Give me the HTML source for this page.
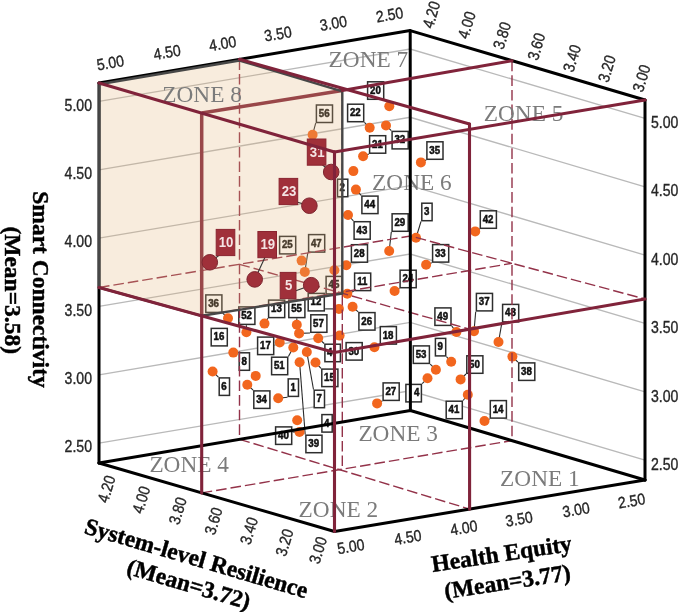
<!DOCTYPE html>
<html><head><meta charset="utf-8"><title>Zones</title>
<style>html,body{margin:0;padding:0;background:#fff;} svg{display:block;filter:blur(0.35px);}</style></head>
<body><svg width="685" height="612" viewBox="0 0 685 612">
<rect width="685" height="612" fill="#fff"/>
<g stroke="#b9b9b9" stroke-width="1.35" fill="none">
<polyline points="99.0,101.4 410.2,49.0 645.0,118.4" fill="none" />
<polyline points="99.0,169.8 410.2,117.3 645.0,186.8" fill="none" />
<polyline points="99.0,238.1 410.2,185.7 645.0,255.1" fill="none" />
<polyline points="99.0,306.4 410.2,254.0 645.0,323.4" fill="none" />
<polyline points="99.0,374.8 410.2,322.4 645.0,391.8" fill="none" />
<polyline points="99.0,443.1 410.2,390.8 645.0,460.1" fill="none" />
</g>
<g stroke="#2b2b2b" stroke-width="1.1">
<line x1="364.4" y1="122.4" x2="369.7" y2="127.7" />
<line x1="391.3" y1="130.7" x2="386.0" y2="125.5" />
<line x1="368.9" y1="153.9" x2="363.1" y2="156.2" />
<line x1="315.7" y1="123.2" x2="312.6" y2="134.7" />
<line x1="426.2" y1="160.1" x2="420.9" y2="162.4" />
<line x1="421.0" y1="221.5" x2="416.0" y2="237.8" />
<line x1="479.6" y1="229.0" x2="475.2" y2="231.4" />
<line x1="361.2" y1="195.3" x2="355.9" y2="189.6" />
<line x1="353.4" y1="220.9" x2="348.0" y2="215.0" />
<line x1="391.3" y1="232.0" x2="389.2" y2="251.0" />
<line x1="350.7" y1="262.9" x2="346.3" y2="265.3" />
<line x1="431.8" y1="262.8" x2="426.1" y2="264.7" />
<line x1="475.7" y1="311.7" x2="474.0" y2="331.2" />
<line x1="501.9" y1="322.7" x2="498.5" y2="342.0" />
<line x1="517.9" y1="362.2" x2="512.4" y2="356.6" />
<line x1="307.8" y1="252.8" x2="304.8" y2="271.9" />
<line x1="334.4" y1="275.7" x2="334.4" y2="270.2" />
<line x1="353.8" y1="291.3" x2="347.3" y2="293.7" />
<line x1="399.4" y1="288.5" x2="394.6" y2="291.0" />
<line x1="325.1" y1="308.9" x2="338.9" y2="308.9" />
<line x1="310.0" y1="333.0" x2="299.1" y2="333.4" />
<line x1="358.2" y1="311.9" x2="352.6" y2="306.8" />
<line x1="379.6" y1="344.8" x2="374.4" y2="347.2" />
<line x1="324.2" y1="343.5" x2="318.2" y2="338.3" />
<line x1="222.7" y1="313.2" x2="228.0" y2="318.3" />
<line x1="246.4" y1="325.2" x2="246.4" y2="332.3" />
<line x1="267.9" y1="318.3" x2="264.5" y2="323.6" />
<line x1="296.8" y1="318.3" x2="296.8" y2="324.7" />
<line x1="288.4" y1="356.5" x2="293.3" y2="347.5" />
<line x1="238.5" y1="352.6" x2="233.3" y2="352.6" />
<line x1="218.4" y1="377.2" x2="212.6" y2="371.5" />
<line x1="253.1" y1="390.1" x2="247.3" y2="384.7" />
<line x1="287.5" y1="397.2" x2="278.2" y2="398.2" />
<line x1="321.0" y1="368.4" x2="315.5" y2="362.5" />
<line x1="313.5" y1="389.5" x2="306.8" y2="352.0" />
<line x1="305.2" y1="434.5" x2="299.6" y2="362.2" />
<line x1="292.5" y1="432.0" x2="299.5" y2="432.0" />
<line x1="382.3" y1="401.1" x2="377.1" y2="403.4" />
<line x1="422.2" y1="383.7" x2="427.5" y2="378.3" />
<line x1="451.8" y1="326.2" x2="456.4" y2="332.0" />
<line x1="446.4" y1="356.7" x2="451.2" y2="361.8" />
<line x1="430.2" y1="364.2" x2="435.9" y2="369.7" />
<line x1="466.0" y1="374.0" x2="460.6" y2="379.4" />
<line x1="463.1" y1="400.5" x2="467.8" y2="394.7" />
<line x1="489.6" y1="418.9" x2="484.5" y2="421.0" />
</g>
<g fill="#f2661e">
<circle cx="389.3" cy="106.3" r="5"/>
<circle cx="369.7" cy="127.7" r="5"/>
<circle cx="386.0" cy="125.5" r="5"/>
<circle cx="363.1" cy="156.2" r="5"/>
<circle cx="353.4" cy="171.1" r="5"/>
<circle cx="312.6" cy="134.7" r="5"/>
<circle cx="420.9" cy="162.4" r="5"/>
<circle cx="355.9" cy="189.6" r="5"/>
<circle cx="348.0" cy="215.0" r="5"/>
<circle cx="389.2" cy="251.0" r="5"/>
<circle cx="416.0" cy="237.8" r="5"/>
<circle cx="346.3" cy="265.3" r="5"/>
<circle cx="334.4" cy="270.2" r="5"/>
<circle cx="426.1" cy="264.7" r="5"/>
<circle cx="475.2" cy="231.4" r="5"/>
<circle cx="301.6" cy="260.6" r="5"/>
<circle cx="304.8" cy="271.9" r="5"/>
<circle cx="347.3" cy="293.7" r="5"/>
<circle cx="394.6" cy="291.0" r="5"/>
<circle cx="352.6" cy="306.8" r="5"/>
<circle cx="338.9" cy="308.9" r="5"/>
<circle cx="339.6" cy="335.6" r="5"/>
<circle cx="374.4" cy="347.2" r="5"/>
<circle cx="228.0" cy="318.3" r="5"/>
<circle cx="264.5" cy="323.6" r="5"/>
<circle cx="296.8" cy="324.7" r="5"/>
<circle cx="299.1" cy="333.4" r="5"/>
<circle cx="318.2" cy="338.3" r="5"/>
<circle cx="279.7" cy="342.4" r="5"/>
<circle cx="293.3" cy="347.5" r="5"/>
<circle cx="306.8" cy="352.0" r="5"/>
<circle cx="299.6" cy="362.2" r="5"/>
<circle cx="315.5" cy="362.5" r="5"/>
<circle cx="246.4" cy="332.3" r="5"/>
<circle cx="233.3" cy="352.6" r="5"/>
<circle cx="212.6" cy="371.5" r="5"/>
<circle cx="255.7" cy="375.9" r="5"/>
<circle cx="247.3" cy="384.7" r="5"/>
<circle cx="278.2" cy="398.2" r="5"/>
<circle cx="297.2" cy="420.2" r="5"/>
<circle cx="299.5" cy="432.0" r="5"/>
<circle cx="377.1" cy="403.4" r="5"/>
<circle cx="474.0" cy="331.2" r="5"/>
<circle cx="498.5" cy="342.0" r="5"/>
<circle cx="512.4" cy="356.6" r="5"/>
<circle cx="456.4" cy="332.0" r="5"/>
<circle cx="451.2" cy="361.8" r="5"/>
<circle cx="435.9" cy="369.7" r="5"/>
<circle cx="427.5" cy="378.3" r="5"/>
<circle cx="460.6" cy="379.4" r="5"/>
<circle cx="467.8" cy="394.7" r="5"/>
<circle cx="484.5" cy="421.0" r="5"/>
</g>
<g fill="#fff" stroke="#2e2e2e" stroke-width="1.5">
<rect x="367.6" y="81.8" width="16.1" height="17.5"/>
<rect x="347.6" y="104.2" width="16.1" height="17.5"/>
<rect x="392.1" y="131.4" width="16.1" height="17.5"/>
<rect x="369.6" y="135.7" width="16.1" height="17.5"/>
<rect x="316.4" y="105.0" width="16.1" height="17.5"/>
<rect x="426.9" y="141.8" width="16.1" height="17.5"/>
<rect x="421.8" y="203.2" width="10.3" height="17.5"/>
<rect x="480.3" y="210.8" width="16.1" height="17.5"/>
<rect x="361.9" y="196.1" width="16.1" height="17.5"/>
<rect x="354.1" y="221.7" width="16.1" height="17.5"/>
<rect x="392.1" y="213.8" width="16.1" height="17.5"/>
<rect x="351.4" y="244.7" width="16.1" height="17.5"/>
<rect x="432.6" y="244.6" width="16.1" height="17.5"/>
<rect x="476.4" y="293.4" width="16.1" height="17.5"/>
<rect x="502.6" y="304.4" width="16.1" height="17.5"/>
<rect x="518.7" y="362.9" width="16.1" height="17.5"/>
<rect x="279.6" y="236.4" width="16.1" height="17.5"/>
<rect x="308.6" y="234.6" width="16.1" height="17.5"/>
<rect x="337.5" y="179.2" width="10.3" height="17.5"/>
<rect x="326.1" y="276.4" width="16.1" height="17.5"/>
<rect x="354.6" y="273.1" width="16.1" height="17.5"/>
<rect x="400.1" y="270.2" width="16.1" height="17.5"/>
<rect x="308.2" y="293.4" width="16.1" height="17.5"/>
<rect x="310.8" y="314.8" width="16.1" height="17.5"/>
<rect x="358.9" y="312.6" width="16.1" height="17.5"/>
<rect x="380.3" y="326.6" width="16.1" height="17.5"/>
<rect x="324.9" y="344.2" width="15.5" height="17.5"/>
<rect x="346.1" y="342.6" width="16.1" height="17.5"/>
<rect x="205.8" y="294.9" width="16.1" height="17.5"/>
<rect x="238.8" y="306.9" width="16.1" height="17.5"/>
<rect x="268.6" y="300.1" width="16.1" height="17.5"/>
<rect x="288.8" y="300.1" width="16.1" height="17.5"/>
<rect x="211.2" y="328.4" width="16.1" height="17.5"/>
<rect x="257.6" y="337.1" width="16.1" height="17.5"/>
<rect x="271.6" y="357.2" width="16.1" height="17.5"/>
<rect x="239.2" y="352.8" width="10.3" height="17.5"/>
<rect x="219.2" y="377.9" width="10.3" height="17.5"/>
<rect x="253.8" y="390.9" width="16.1" height="17.5"/>
<rect x="288.2" y="378.9" width="10.3" height="17.5"/>
<rect x="321.8" y="369.1" width="16.1" height="17.5"/>
<rect x="314.2" y="390.2" width="10.3" height="17.5"/>
<rect x="321.9" y="414.6" width="10.3" height="17.5"/>
<rect x="305.9" y="435.2" width="16.1" height="17.5"/>
<rect x="275.6" y="426.9" width="16.1" height="17.5"/>
<rect x="383.1" y="382.9" width="16.1" height="17.5"/>
<rect x="405.9" y="384.4" width="15.5" height="17.5"/>
<rect x="434.9" y="307.9" width="16.1" height="17.5"/>
<rect x="435.4" y="338.4" width="10.3" height="17.5"/>
<rect x="413.3" y="345.9" width="16.1" height="17.5"/>
<rect x="466.8" y="355.8" width="16.1" height="17.5"/>
<rect x="446.2" y="401.2" width="16.1" height="17.5"/>
<rect x="490.3" y="400.6" width="16.1" height="17.5"/>
</g>
<g font-family="Liberation Sans, Arial, sans-serif" font-weight="bold" font-size="10.2" fill="#111" stroke="#111" stroke-width="0.5" text-anchor="middle">
<text x="0" y="0" transform="translate(375.4,93.7) scale(0.95,1)">20</text>
<text x="0" y="0" transform="translate(355.3,116.1) scale(0.95,1)">22</text>
<text x="0" y="0" transform="translate(399.8,143.4) scale(0.95,1)">32</text>
<text x="0" y="0" transform="translate(377.4,147.6) scale(0.95,1)">21</text>
<text x="0" y="0" transform="translate(324.2,116.9) scale(0.95,1)">56</text>
<text x="0" y="0" transform="translate(434.7,153.8) scale(0.95,1)">35</text>
<text x="0" y="0" transform="translate(426.6,215.2) scale(0.95,1)">3</text>
<text x="0" y="0" transform="translate(488.1,222.7) scale(0.95,1)">42</text>
<text x="0" y="0" transform="translate(369.7,208.0) scale(0.95,1)">44</text>
<text x="0" y="0" transform="translate(361.9,233.6) scale(0.95,1)">43</text>
<text x="0" y="0" transform="translate(399.8,225.7) scale(0.95,1)">29</text>
<text x="0" y="0" transform="translate(359.2,256.6) scale(0.95,1)">28</text>
<text x="0" y="0" transform="translate(440.3,256.5) scale(0.95,1)">33</text>
<text x="0" y="0" transform="translate(484.2,305.4) scale(0.95,1)">37</text>
<text x="0" y="0" transform="translate(510.4,316.4) scale(0.95,1)">48</text>
<text x="0" y="0" transform="translate(526.4,374.9) scale(0.95,1)">38</text>
<text x="0" y="0" transform="translate(287.3,248.4) scale(0.95,1)">25</text>
<text x="0" y="0" transform="translate(316.3,246.5) scale(0.95,1)">47</text>
<text x="0" y="0" transform="translate(342.3,191.2) scale(0.95,1)">2</text>
<text x="0" y="0" transform="translate(333.9,288.4) scale(0.95,1)">45</text>
<text x="0" y="0" transform="translate(362.3,285.0) scale(0.95,1)">11</text>
<text x="0" y="0" transform="translate(407.9,282.2) scale(0.95,1)">24</text>
<text x="0" y="0" transform="translate(316.0,305.3) scale(0.95,1)">12</text>
<text x="0" y="0" transform="translate(318.5,326.7) scale(0.95,1)">57</text>
<text x="0" y="0" transform="translate(366.7,324.6) scale(0.95,1)">26</text>
<text x="0" y="0" transform="translate(388.1,338.5) scale(0.95,1)">18</text>
<text x="0" y="0" transform="translate(329.6,356.2) scale(0.95,1)">4</text>
<text x="0" y="0" transform="translate(353.8,354.5) scale(0.95,1)">30</text>
<text x="0" y="0" transform="translate(213.6,306.9) scale(0.95,1)">36</text>
<text x="0" y="0" transform="translate(246.6,318.9) scale(0.95,1)">52</text>
<text x="0" y="0" transform="translate(276.4,312.0) scale(0.95,1)">13</text>
<text x="0" y="0" transform="translate(296.6,312.0) scale(0.95,1)">55</text>
<text x="0" y="0" transform="translate(219.0,340.4) scale(0.95,1)">16</text>
<text x="0" y="0" transform="translate(265.4,349.0) scale(0.95,1)">17</text>
<text x="0" y="0" transform="translate(279.3,369.2) scale(0.95,1)">51</text>
<text x="0" y="0" transform="translate(244.1,364.7) scale(0.95,1)">8</text>
<text x="0" y="0" transform="translate(224.0,389.9) scale(0.95,1)">6</text>
<text x="0" y="0" transform="translate(261.6,402.8) scale(0.95,1)">34</text>
<text x="0" y="0" transform="translate(293.1,390.9) scale(0.95,1)">1</text>
<text x="0" y="0" transform="translate(329.5,381.1) scale(0.95,1)">15</text>
<text x="0" y="0" transform="translate(319.1,402.2) scale(0.95,1)">7</text>
<text x="0" y="0" transform="translate(326.7,426.5) scale(0.95,1)">4</text>
<text x="0" y="0" transform="translate(313.7,447.2) scale(0.95,1)">39</text>
<text x="0" y="0" transform="translate(283.4,438.8) scale(0.95,1)">40</text>
<text x="0" y="0" transform="translate(390.8,394.8) scale(0.95,1)">27</text>
<text x="0" y="0" transform="translate(416.6,396.4) scale(0.95,1)">4</text>
<text x="0" y="0" transform="translate(442.7,319.9) scale(0.95,1)">49</text>
<text x="0" y="0" transform="translate(440.2,350.4) scale(0.95,1)">9</text>
<text x="0" y="0" transform="translate(421.1,357.9) scale(0.95,1)">53</text>
<text x="0" y="0" transform="translate(474.5,367.7) scale(0.95,1)">50</text>
<text x="0" y="0" transform="translate(454.0,413.2) scale(0.95,1)">41</text>
<text x="0" y="0" transform="translate(498.1,412.6) scale(0.95,1)">14</text>
</g>
<g stroke="#933249" stroke-width="1.4" stroke-dasharray="10.6 4" fill="none">
<line x1="239.5" y1="59.3" x2="239.5" y2="439.3" />
<line x1="512.0" y1="60.7" x2="512.0" y2="440.6" />
<polyline points="99.0,287.5 410.4,236.0 645.0,299.0" fill="none" />
<line x1="239.5" y1="439.3" x2="469.6" y2="509.1" />
<line x1="201.7" y1="492.9" x2="512.0" y2="440.6" />
<line x1="342.3" y1="90.5" x2="342.3" y2="470.5" />
<line x1="239.5" y1="264.3" x2="469.6" y2="329.2" />
<line x1="201.7" y1="315.8" x2="512.0" y2="263.3" />
</g>
<g stroke="#80233a" stroke-width="3.5" fill="none">
<line x1="201.7" y1="113.1" x2="201.7" y2="315.8" />
<line x1="201.7" y1="113.1" x2="342.3" y2="90.5" />
</g>
<polygon points="99.0,83.0 239.5,59.3 342.3,90.5 342.3,293.5 201.7,315.8 99.0,287.5" fill="rgb(227,179,119)" fill-opacity="0.25" stroke="none"/>
<g font-family="Liberation Serif, Times New Roman, serif" font-size="23" fill="#7b7b7b">
<text x="162.3" y="101.7" textLength="79.6" lengthAdjust="spacingAndGlyphs">ZONE 8</text>
<text x="328.6" y="67.4" textLength="79.6" lengthAdjust="spacingAndGlyphs">ZONE 7</text>
<text x="483.8" y="121" textLength="79.6" lengthAdjust="spacingAndGlyphs">ZONE 5</text>
<text x="372.1" y="190" textLength="79.6" lengthAdjust="spacingAndGlyphs">ZONE 6</text>
<text x="358.4" y="440.7" textLength="79.6" lengthAdjust="spacingAndGlyphs">ZONE 3</text>
<text x="149.4" y="471.7" textLength="79.6" lengthAdjust="spacingAndGlyphs">ZONE 4</text>
<text x="298.6" y="516.8" textLength="79.6" lengthAdjust="spacingAndGlyphs">ZONE 2</text>
<text x="500.1" y="485.7" textLength="79.6" lengthAdjust="spacingAndGlyphs">ZONE 1</text>
</g>
<g stroke="#000" stroke-width="3" stroke-linecap="round" stroke-linejoin="round" fill="none">
<polyline points="99.0,83.0 410.2,30.6 645.0,100.0" fill="none" />
<line x1="99.0" y1="83.0" x2="99.0" y2="463.0" />
<line x1="410.2" y1="30.6" x2="410.4" y2="410.5" />
<line x1="645.0" y1="100.0" x2="645.0" y2="480.0" />
<polyline points="99.0,463.0 410.4,410.5 645.0,480.0" fill="none" />
<polyline points="99.0,463.0 334.5,531.5 645.0,480.0" fill="none" />
</g>
<g stroke="#474747" stroke-width="2.4" fill="none" stroke-linejoin="round">
<polyline points="99.3,84.2 239.5,60.5 342.3,91.3 342.3,293.5 201.7,315.8 99.0,287.5 99.3,84.2" fill="none" />
</g>
<g stroke="#333" stroke-width="1.1">
<line x1="316.6" y1="160.1" x2="331.2" y2="172.0" />
<line x1="288.4" y1="199.5" x2="309.4" y2="205.7" />
<line x1="225.5" y1="250.5" x2="209.8" y2="262.3" />
<line x1="267.2" y1="252.6" x2="254.7" y2="279.4" />
<line x1="288.1" y1="293.5" x2="311.2" y2="285.2" />
</g>
<circle cx="331.2" cy="172" r="7.8" fill="#a0303a" stroke="#7e2630" stroke-width="1"/>
<circle cx="309.4" cy="205.7" r="7.8" fill="#a0303a" stroke="#7e2630" stroke-width="1"/>
<circle cx="209.8" cy="262.3" r="7.8" fill="#a0303a" stroke="#7e2630" stroke-width="1"/>
<circle cx="254.7" cy="279.4" r="7.8" fill="#a0303a" stroke="#7e2630" stroke-width="1"/>
<circle cx="311.2" cy="285.2" r="7.8" fill="#a0303a" stroke="#7e2630" stroke-width="1"/>
<rect x="307.3" y="139.0" width="18.6" height="26.2" fill="#a0303a" stroke="#8a2430" stroke-width="1"/>
<text x="0" y="0" transform="translate(317.2,156.7) scale(0.88,1)" font-family="Liberation Sans, Arial, sans-serif" font-size="15" font-weight="bold" fill="#f4e4e4" text-anchor="middle">31</text>
<rect x="279.1" y="178.4" width="18.6" height="26.2" fill="#a0303a" stroke="#8a2430" stroke-width="1"/>
<text x="0" y="0" transform="translate(289.0,196.1) scale(0.88,1)" font-family="Liberation Sans, Arial, sans-serif" font-size="15" font-weight="bold" fill="#f4e4e4" text-anchor="middle">23</text>
<rect x="216.2" y="229.4" width="18.6" height="26.2" fill="#a0303a" stroke="#8a2430" stroke-width="1"/>
<text x="0" y="0" transform="translate(226.1,247.1) scale(0.88,1)" font-family="Liberation Sans, Arial, sans-serif" font-size="15" font-weight="bold" fill="#f4e4e4" text-anchor="middle">10</text>
<rect x="257.9" y="231.5" width="18.6" height="26.2" fill="#a0303a" stroke="#8a2430" stroke-width="1"/>
<text x="0" y="0" transform="translate(267.8,249.2) scale(0.88,1)" font-family="Liberation Sans, Arial, sans-serif" font-size="15" font-weight="bold" fill="#f4e4e4" text-anchor="middle">19</text>
<rect x="280.2" y="272.4" width="15.8" height="26.2" fill="#a0303a" stroke="#8a2430" stroke-width="1"/>
<text x="0" y="0" transform="translate(288.7,290.1) scale(0.88,1)" font-family="Liberation Sans, Arial, sans-serif" font-size="15" font-weight="bold" fill="#f4e4e4" text-anchor="middle">5</text>
<g stroke="#80233a" stroke-width="3.1" fill="none" stroke-linecap="round">
<line x1="99.0" y1="83.0" x2="334.5" y2="152.0" />
<line x1="334.5" y1="152.0" x2="645.0" y2="100.0" />
<line x1="334.5" y1="152.0" x2="334.5" y2="531.5" />
<line x1="201.7" y1="315.8" x2="201.7" y2="492.9" />
<line x1="469.5" y1="124.0" x2="469.6" y2="509.1" />
<line x1="239.5" y1="59.3" x2="469.5" y2="124.0" />
<line x1="342.3" y1="90.5" x2="512.0" y2="60.7" />
<polyline points="99.0,287.5 334.5,352.5 645.0,299.0" fill="none" />
</g>
<g font-family="Liberation Sans, Arial, sans-serif" font-size="16" fill="#262626" stroke="#262626" stroke-width="0.35">
<text x="0" y="5.7" text-anchor="end" transform="translate(92.0,104.9) rotate(0) scale(0.88,1)">5.00</text>
<text x="0" y="5.7" text-anchor="end" transform="translate(92.0,173.2) rotate(0) scale(0.88,1)">4.50</text>
<text x="0" y="5.7" text-anchor="end" transform="translate(92.0,241.5) rotate(0) scale(0.88,1)">4.00</text>
<text x="0" y="5.7" text-anchor="end" transform="translate(92.0,309.79999999999995) rotate(0) scale(0.88,1)">3.50</text>
<text x="0" y="5.7" text-anchor="end" transform="translate(92.0,378.1) rotate(0) scale(0.88,1)">3.00</text>
<text x="0" y="5.7" text-anchor="end" transform="translate(92.0,446.4) rotate(0) scale(0.88,1)">2.50</text>
<text x="0" y="5.7" text-anchor="start" transform="translate(651,121.8) rotate(0) scale(0.88,1)">5.00</text>
<text x="0" y="5.7" text-anchor="start" transform="translate(651,190.3) rotate(0) scale(0.88,1)">4.50</text>
<text x="0" y="5.7" text-anchor="start" transform="translate(651,258.8) rotate(0) scale(0.88,1)">4.00</text>
<text x="0" y="5.7" text-anchor="start" transform="translate(651,327.3) rotate(0) scale(0.88,1)">3.50</text>
<text x="0" y="5.7" text-anchor="start" transform="translate(651,395.8) rotate(0) scale(0.88,1)">3.00</text>
<text x="0" y="5.7" text-anchor="start" transform="translate(651,464.3) rotate(0) scale(0.88,1)">2.50</text>
<text x="0" y="5.7" text-anchor="middle" transform="translate(110.2,62.6) rotate(-9.5) scale(0.88,1)">5.00</text>
<text x="0" y="5.7" text-anchor="middle" transform="translate(167.1,52) rotate(-9.5) scale(0.88,1)">4.50</text>
<text x="0" y="5.7" text-anchor="middle" transform="translate(222.5,43.4) rotate(-9.5) scale(0.88,1)">4.00</text>
<text x="0" y="5.7" text-anchor="middle" transform="translate(277.9,33.7) rotate(-9.5) scale(0.88,1)">3.50</text>
<text x="0" y="5.7" text-anchor="middle" transform="translate(333.3,23.1) rotate(-9.5) scale(0.88,1)">3.00</text>
<text x="0" y="5.7" text-anchor="middle" transform="translate(389.6,14.5) rotate(-9.5) scale(0.88,1)">2.50</text>
<text x="0" y="5.7" text-anchor="middle" transform="translate(350.7,546.3) rotate(-9.5) scale(0.88,1)">5.00</text>
<text x="0" y="5.7" text-anchor="middle" transform="translate(407.7,537) rotate(-9.5) scale(0.88,1)">4.50</text>
<text x="0" y="5.7" text-anchor="middle" transform="translate(463.7,527.7) rotate(-9.5) scale(0.88,1)">4.00</text>
<text x="0" y="5.7" text-anchor="middle" transform="translate(519.1,518.9) rotate(-9.5) scale(0.88,1)">3.50</text>
<text x="0" y="5.7" text-anchor="middle" transform="translate(576.1,509.5) rotate(-9.5) scale(0.88,1)">3.00</text>
<text x="0" y="5.7" text-anchor="middle" transform="translate(631.6,500.7) rotate(-9.5) scale(0.88,1)">2.50</text>
<text x="0" y="5.7" text-anchor="middle" transform="translate(431.2,14.6) rotate(-73) scale(0.88,1)">4.20</text>
<text x="0" y="5.7" text-anchor="middle" transform="translate(466.6,25) rotate(-73) scale(0.88,1)">4.00</text>
<text x="0" y="5.7" text-anchor="middle" transform="translate(501.9,35.5) rotate(-73) scale(0.88,1)">3.80</text>
<text x="0" y="5.7" text-anchor="middle" transform="translate(536.2,46.5) rotate(-73) scale(0.88,1)">3.60</text>
<text x="0" y="5.7" text-anchor="middle" transform="translate(571.8,58.2) rotate(-73) scale(0.88,1)">3.40</text>
<text x="0" y="5.7" text-anchor="middle" transform="translate(606.7,68.6) rotate(-73) scale(0.88,1)">3.20</text>
<text x="0" y="5.7" text-anchor="middle" transform="translate(641.3,78.2) rotate(-73) scale(0.88,1)">3.00</text>
<text x="0" y="5.7" text-anchor="middle" transform="translate(106.4,488.9) rotate(-73) scale(0.88,1)">4.20</text>
<text x="0" y="5.7" text-anchor="middle" transform="translate(141,499.8) rotate(-73) scale(0.88,1)">4.00</text>
<text x="0" y="5.7" text-anchor="middle" transform="translate(177.6,510.8) rotate(-73) scale(0.88,1)">3.80</text>
<text x="0" y="5.7" text-anchor="middle" transform="translate(213.4,521.0) rotate(-73) scale(0.88,1)">3.60</text>
<text x="0" y="5.7" text-anchor="middle" transform="translate(248.8,530.8) rotate(-73) scale(0.88,1)">3.40</text>
<text x="0" y="5.7" text-anchor="middle" transform="translate(284.3,542.5) rotate(-73) scale(0.88,1)">3.20</text>
<text x="0" y="5.7" text-anchor="middle" transform="translate(317.8,550.1) rotate(-73) scale(0.88,1)">3.00</text>
</g>
<g font-family="Liberation Serif, Times New Roman, serif" font-size="23.5" font-weight="bold" fill="#000" stroke="#000" stroke-width="0.45" text-anchor="middle">
<g transform="translate(40.5,289.5) rotate(90)"><text x="0" y="8">Smart Connectivity</text></g>
<g transform="translate(12.5,290.2) rotate(90)"><text x="0" y="8">(Mean=3.58)</text></g>
<g transform="translate(196.5,558) rotate(16.4)"><text x="0" y="8">System-level Resilience</text><text x="0" y="35">(Mean=3.72)</text></g>
<g transform="translate(501.5,553.5) rotate(-8.7)"><text x="0" y="8">Health Equity</text><text x="1.5" y="36.5">(Mean=3.77)</text></g>
</g>
</svg></body></html>
